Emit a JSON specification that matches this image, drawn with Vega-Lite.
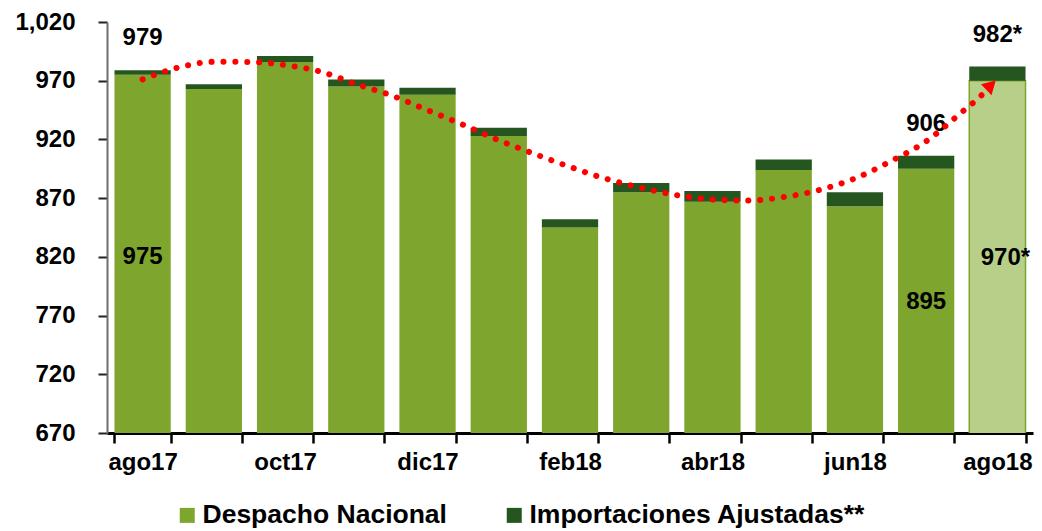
{
  "$schema": "https://vega.github.io/schema/vega-lite/v6.json",
  "width": 926,
  "height": 411,
  "autosize": {"type": "none"},
  "padding": {"left": 107, "top": 22, "right": 9, "bottom": 98},
  "background": "white",
  "config": {"font": "Liberation Sans", "view": {"stroke": null}},
  "datasets": {
    "barras": [
      {"mes": "ago17", "serie": "Despacho Nacional", "valor": 975},
      {"mes": "ago17", "serie": "Importaciones Ajustadas**", "valor": 4},
      {"mes": "sep17", "serie": "Despacho Nacional", "valor": 963},
      {"mes": "sep17", "serie": "Importaciones Ajustadas**", "valor": 4},
      {"mes": "oct17", "serie": "Despacho Nacional", "valor": 986},
      {"mes": "oct17", "serie": "Importaciones Ajustadas**", "valor": 5},
      {"mes": "nov17", "serie": "Despacho Nacional", "valor": 965},
      {"mes": "nov17", "serie": "Importaciones Ajustadas**", "valor": 6},
      {"mes": "dic17", "serie": "Despacho Nacional", "valor": 958},
      {"mes": "dic17", "serie": "Importaciones Ajustadas**", "valor": 6},
      {"mes": "ene18", "serie": "Despacho Nacional", "valor": 923},
      {"mes": "ene18", "serie": "Importaciones Ajustadas**", "valor": 7},
      {"mes": "feb18", "serie": "Despacho Nacional", "valor": 845},
      {"mes": "feb18", "serie": "Importaciones Ajustadas**", "valor": 7},
      {"mes": "mar18", "serie": "Despacho Nacional", "valor": 875},
      {"mes": "mar18", "serie": "Importaciones Ajustadas**", "valor": 8},
      {"mes": "abr18", "serie": "Despacho Nacional", "valor": 867},
      {"mes": "abr18", "serie": "Importaciones Ajustadas**", "valor": 9},
      {"mes": "may18", "serie": "Despacho Nacional", "valor": 894},
      {"mes": "may18", "serie": "Importaciones Ajustadas**", "valor": 9},
      {"mes": "jun18", "serie": "Despacho Nacional", "valor": 863},
      {"mes": "jun18", "serie": "Importaciones Ajustadas**", "valor": 12},
      {"mes": "jul18", "serie": "Despacho Nacional", "valor": 895},
      {"mes": "jul18", "serie": "Importaciones Ajustadas**", "valor": 11},
      {"mes": "ago18", "serie": "Despacho Nacional", "valor": 970},
      {"mes": "ago18", "serie": "Importaciones Ajustadas**", "valor": 12}
    ],
    "etiquetas": [
      {"mes": "ago17", "tipo": "total", "valor": 979, "texto": "979"},
      {"mes": "ago17", "tipo": "despacho", "valor": 975, "texto": "975"},
      {"mes": "jul18", "tipo": "total", "valor": 906, "texto": "906"},
      {"mes": "jul18", "tipo": "despacho", "valor": 895, "texto": "895"},
      {"mes": "ago18", "tipo": "total", "valor": 982, "texto": "982*"},
      {"mes": "ago18", "tipo": "despacho", "valor": 970, "texto": "970*"}
    ],
    "tendencia": [
      {"x": 0, "y": 971.1},
      {"x": 0.5, "y": 981.2},
      {"x": 1, "y": 986.1},
      {"x": 1.5, "y": 986.0},
      {"x": 2, "y": 983.3},
      {"x": 2.5, "y": 977.7},
      {"x": 3, "y": 967.1},
      {"x": 3.5, "y": 957.3},
      {"x": 4, "y": 944.9},
      {"x": 4.5, "y": 932.5},
      {"x": 5, "y": 919.3},
      {"x": 5.5, "y": 907.7},
      {"x": 6, "y": 896.6},
      {"x": 6.5, "y": 886.6},
      {"x": 7, "y": 878.8},
      {"x": 7.5, "y": 872.5},
      {"x": 8, "y": 868.9},
      {"x": 8.5, "y": 868.0},
      {"x": 9, "y": 870.9},
      {"x": 9.5, "y": 877.0},
      {"x": 10, "y": 886.8},
      {"x": 10.5, "y": 901.3},
      {"x": 11, "y": 918.4},
      {"x": 11.5, "y": 943.2},
      {"x": 11.75, "y": 956.0},
      {"x": 11.85, "y": 962.0}
    ],
    "flecha": [{"x": 11.91, "y": 966.2}]
  },
  "layer": [
    {
      "layer": [
        {
          "data": {"name": "barras"},
          "mark": {"type": "bar", "clip": true, "strokeWidth": 1.5},
          "encoding": {
            "x": {
              "field": "mes",
              "type": "ordinal",
              "sort": null,
              "scale": {"paddingInner": 0.21, "paddingOuter": 0.105},
              "axis": {
                "title": null,
                "labelAngle": 0,
                "tickBand": "extent",
                "labelExpr": "indexof(['ago17','oct17','dic17','feb18','abr18','jun18','ago18'], datum.value) >= 0 ? datum.label : ''",
                "labelFontSize": 24,
                "labelFontWeight": "bold",
                "labelColor": "black",
                "labelPadding": 7,
                "domainColor": "black",
                "domainWidth": 3,
                "tickColor": "black",
                "tickWidth": 2.5,
                "tickSize": 10
              }
            },
            "y": {
              "field": "valor",
              "type": "quantitative",
              "stack": "zero",
              "scale": {"domain": [670, 1020], "zero": false, "nice": false},
              "axis": {
                "title": null,
                "values": [670, 720, 770, 820, 870, 920, 970, 1020],
                "format": ",d",
                "grid": false,
                "labelFontSize": 24,
                "labelFontWeight": "bold",
                "labelColor": "black",
                "labelPadding": 23,
                "domainColor": "#6e6e6e",
                "domainWidth": 2,
                "tickColor": "#222222",
                "tickWidth": 2,
                "tickSize": 9
              }
            },
            "color": {
              "condition": {"test": "datum.mes === 'ago18' && datum.serie === 'Despacho Nacional'", "value": "#b7cf88"},
              "field": "serie",
              "type": "nominal",
              "scale": {
                "domain": ["Despacho Nacional", "Importaciones Ajustadas**"],
                "range": ["#7ea62e", "#25561f"]
              },
              "legend": {
                "title": null,
                "orient": "none",
                "direction": "horizontal",
                "legendX": 67,
                "legendY": 480,
                "symbolType": "square",
                "symbolSize": 225,
                "symbolStrokeWidth": 0,
                "labelFontSize": 26.5,
                "labelFontWeight": "bold",
                "labelColor": "black",
                "labelLimit": 0,
                "labelOffset": 2,
                "columnPadding": 54
              }
            },
            "stroke": {
              "condition": {"test": "datum.mes === 'ago18' && datum.serie === 'Despacho Nacional'", "value": "#7ea62e"},
              "value": null
            },
            "order": {"field": "serie", "sort": "ascending"}
          }
        },
        {
          "data": {"name": "etiquetas"},
          "transform": [{"filter": "datum.tipo === 'total'"}],
          "mark": {"type": "text", "fontSize": 24, "fontWeight": "bold", "color": "black", "baseline": "middle", "align": "center", "dy": -32},
          "encoding": {
            "x": {"field": "mes", "type": "ordinal", "sort": null},
            "y": {"field": "valor", "type": "quantitative"},
            "text": {"field": "texto"}
          }
        },
        {
          "data": {"name": "etiquetas"},
          "transform": [{"filter": "datum.tipo === 'despacho' && datum.mes === 'ago17'"}],
          "mark": {"type": "text", "fontSize": 24, "fontWeight": "bold", "color": "black", "baseline": "middle", "align": "center", "dy": 182},
          "encoding": {
            "x": {"field": "mes", "type": "ordinal", "sort": null},
            "y": {"field": "valor", "type": "quantitative"},
            "text": {"field": "texto"}
          }
        },
        {
          "data": {"name": "etiquetas"},
          "transform": [{"filter": "datum.tipo === 'despacho' && datum.mes === 'jul18'"}],
          "mark": {"type": "text", "fontSize": 24, "fontWeight": "bold", "color": "black", "baseline": "middle", "align": "center", "dy": 133},
          "encoding": {
            "x": {"field": "mes", "type": "ordinal", "sort": null},
            "y": {"field": "valor", "type": "quantitative"},
            "text": {"field": "texto"}
          }
        },
        {
          "data": {"name": "etiquetas"},
          "transform": [{"filter": "datum.tipo === 'despacho' && datum.mes === 'ago18'"}],
          "mark": {"type": "text", "fontSize": 24, "fontWeight": "bold", "color": "black", "baseline": "middle", "align": "center", "dy": 177, "dx": 8},
          "encoding": {
            "x": {"field": "mes", "type": "ordinal", "sort": null},
            "y": {"field": "valor", "type": "quantitative"},
            "text": {"field": "texto"}
          }
        }
      ]
    },
    {
      "layer": [
        {
          "data": {"name": "tendencia"},
          "mark": {"type": "line", "color": "#ff0000", "strokeWidth": 6, "strokeDash": [0.1, 11.8], "strokeCap": "round", "interpolate": "monotone"},
          "encoding": {
            "x": {"field": "x", "type": "quantitative", "scale": {"domain": [-0.5, 12.5], "nice": false, "zero": false}, "axis": null},
            "y": {"field": "y", "type": "quantitative"}
          }
        },
        {
          "data": {"name": "flecha"},
          "mark": {"type": "point", "shape": "triangle-up", "filled": true, "color": "#ff0000", "opacity": 1, "size": 230, "angle": 46},
          "encoding": {
            "x": {"field": "x", "type": "quantitative"},
            "y": {"field": "y", "type": "quantitative"}
          }
        }
      ]
    }
  ],
  "resolve": {"scale": {"x": "independent"}, "axis": {"x": "independent"}}
}
